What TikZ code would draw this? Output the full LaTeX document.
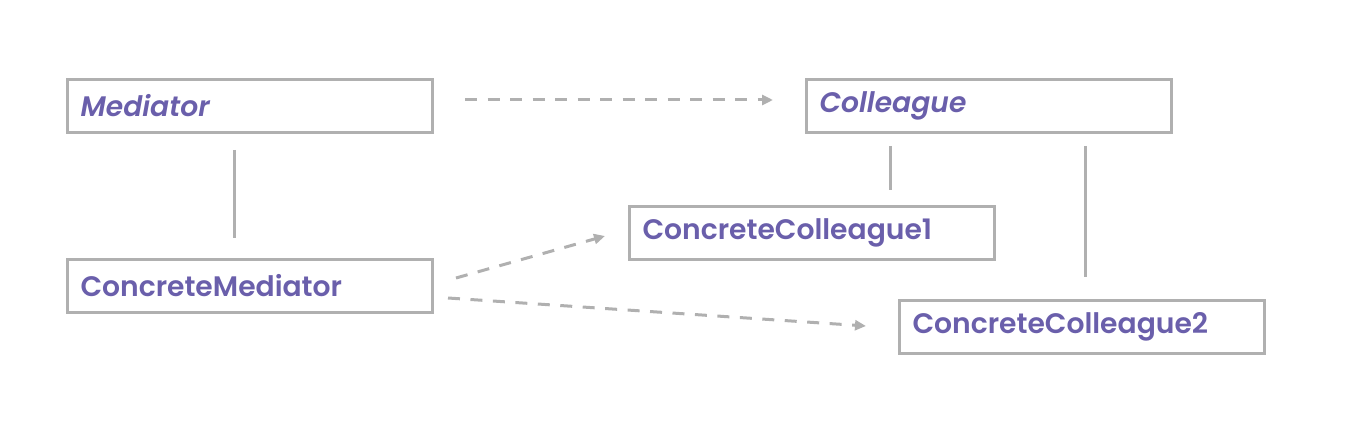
\documentclass[tikz,border=0pt]{standalone}
\usepackage{fontspec}
\setmainfont{Poppins}[BoldFont={Poppins SemiBold},BoldItalicFont={Poppins SemiBold Italic}]
\usetikzlibrary{arrows.meta}
\definecolor{txt}{HTML}{6A5FAB}
\definecolor{ln}{HTML}{B0B0B0}
\tikzset{
  cls/.style={draw=ln, line width=3pt, minimum width=365pt, minimum height=53pt,
    text width=339pt, inner xsep=13pt, align=left, anchor=north west,
    font=\fontsize{28.2}{30}\selectfont\bfseries, text=txt},
  assoc/.style={draw=ln, line width=3pt},
  dep/.style={draw=ln, line width=3pt, dash pattern=on 12pt off 10.5pt,
    -{Triangle[length=11pt,width=10pt]}},
}
\begin{document}
\begin{tikzpicture}[x=1pt,y=-1pt]
\useasboundingbox (0,0) rectangle (1345,430);
\node[cls] (med) at (66,78) {\itshape Mediator};
\node[cls] (col) at (805,78) {\itshape Colleague};
\node[cls] (cc1) at (628,205) {ConcreteColleague1};
\node[cls] (cmed) at (66,258) {ConcreteMediator};
\node[cls] (cc2) at (898,299) {ConcreteColleague2};
\coordinate (a1) at (234,150);
\coordinate (a2) at (234,238);
\coordinate (b1) at (890,146);
\coordinate (b2) at (890,190);
\coordinate (c1) at (1085,146);
\coordinate (c2) at (1085,277);
\coordinate (d1) at (465,100);
\coordinate (d2) at (773,100);
\coordinate (e1) at (456,278);
\coordinate (e2) at (605,236);
\coordinate (f1) at (448,298);
\coordinate (f2) at (866,326);
\draw[assoc] (a1) -- (a2);
\draw[assoc] (b1) -- (b2);
\draw[assoc] (c1) -- (c2);
\draw[dep] (d1) -- (d2);
\draw[dep] (e1) -- (e2);
\draw[dep] (f1) -- (f2);
\end{tikzpicture}
\end{document}
